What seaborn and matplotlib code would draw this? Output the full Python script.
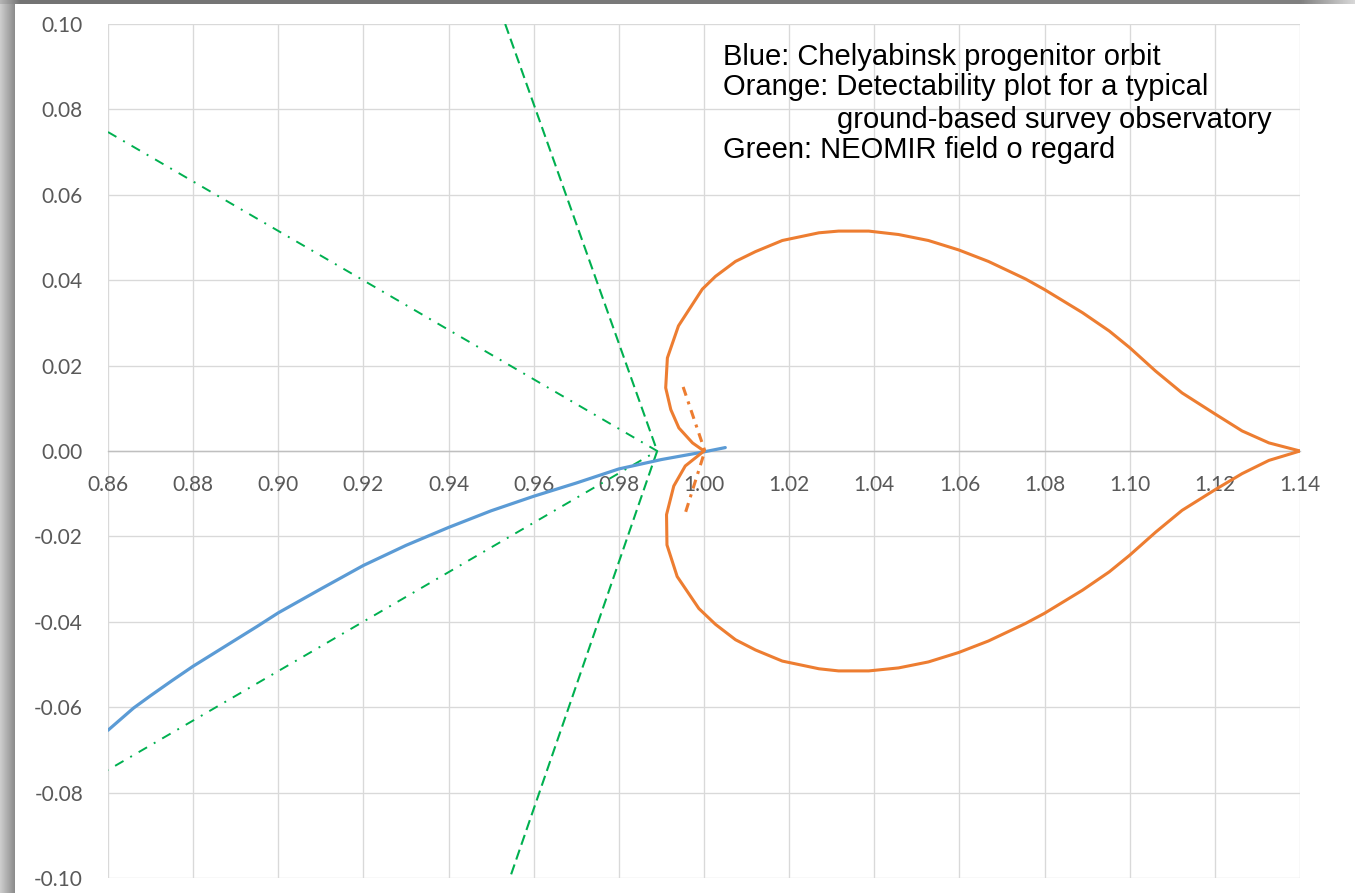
import matplotlib
matplotlib.use("Agg")
import matplotlib.pyplot as plt
import seaborn as sns
import numpy as np
from matplotlib.ticker import FormatStrFormatter

# Blue: Chelyabinsk progenitor orbit
blue_x = [0.860, 0.866, 0.870, 0.875, 0.880, 0.885, 0.890, 0.895, 0.900, 0.910,
          0.920, 0.930, 0.940, 0.950, 0.960, 0.970, 0.980, 0.990, 1.000, 1.005]
blue_y = [-0.0654, -0.0602, -0.0573, -0.0538, -0.0504, -0.0473, -0.0442, -0.0411,
          -0.0379, -0.0323, -0.0268, -0.0221, -0.0179, -0.0140, -0.0106, -0.0075,
          -0.0042, -0.0020, -0.0002, 0.0008]

# Orange: detectability curve, upper and lower branch (cusp at 1.00 -> 1.14)
orange_up_x = [1.0000, 0.9973, 0.9941, 0.9922, 0.9910, 0.9914, 0.9940, 0.9996,
               1.0027, 1.0074, 1.0121, 1.0184, 1.0270, 1.0316, 1.0387, 1.0457,
               1.0527, 1.0598, 1.0668, 1.0755, 1.0800, 1.0889, 1.0952, 1.1000,
               1.1061, 1.1123, 1.1200, 1.1264, 1.1327, 1.1400]
orange_up_y = [0.0000, 0.0019, 0.0054, 0.0097, 0.0148, 0.0218, 0.0293, 0.0379,
               0.0409, 0.0444, 0.0467, 0.0493, 0.0511, 0.0515, 0.0515, 0.0507,
               0.0493, 0.0471, 0.0444, 0.0403, 0.0378, 0.0324, 0.0281, 0.0242,
               0.0187, 0.0136, 0.0087, 0.0047, 0.0019, 0.0000]
orange_lo_x = [1.0000, 0.9956, 0.9929, 0.9912, 0.9913, 0.9937, 0.9988, 1.0027,
               1.0074, 1.0121, 1.0184, 1.0270, 1.0316, 1.0387, 1.0457, 1.0527,
               1.0598, 1.0668, 1.0755, 1.0800, 1.0889, 1.0952, 1.1000, 1.1061,
               1.1123, 1.1200, 1.1264, 1.1327, 1.1400]
orange_lo_y = [0.0000, -0.0035, -0.0082, -0.0149, -0.0220, -0.0294, -0.0369, -0.0406,
               -0.0442, -0.0466, -0.0492, -0.0510, -0.0515, -0.0515, -0.0508, -0.0494,
               -0.0472, -0.0445, -0.0404, -0.0380, -0.0326, -0.0283, -0.0244, -0.0190,
               -0.0139, -0.0091, -0.0053, -0.0022, 0.0000]
orange_dd_x = [0.9951, 1.0002, 0.9954]
orange_dd_y = [0.0150, 0.0000, -0.0152]

# Green: NEOMIR field of regard
green_dash_x = [0.9533, 0.9890, 0.9544]
green_dash_y = [0.100, 0.000, -0.100]
green_dd_x = [0.860, 0.9890, 0.860]
green_dd_y = [0.0747, 0.000, -0.0747]

x_ticks = [0.86, 0.88, 0.90, 0.92, 0.94, 0.96, 0.98, 1.00, 1.02, 1.04, 1.06, 1.08,
           1.10, 1.12, 1.14]
y_ticks = [-0.10, -0.08, -0.06, -0.04, -0.02, 0.00, 0.02, 0.04, 0.06, 0.08, 0.10]

notes = ["Blue: Chelyabinsk progenitor orbit",
         "Orange: Detectability plot for a typical",
         "ground-based survey observatory",
         "Green: NEOMIR field o regard"]

BLUE = "#5B9BD5"
ORANGE = "#ED7D31"
GREEN = "#00B050"

sns.set_theme(style="white")
plt.rcParams['font.family'] = ['Lato', 'DejaVu Sans']
plt.rcParams['axes.unicode_minus'] = False

W, H = 1355, 893
fig = plt.figure(figsize=(W / 100, H / 100), dpi=100)
fig.patch.set_facecolor("white")
ax = fig.add_axes([108 / W, 1 - 878 / H, (1300 - 108) / W, (878 - 24) / H])

def draw(xs, ys, color, lw, ls="-"):
    sns.lineplot(x=xs, y=ys, sort=False, estimator=None, color=color,
                 linewidth=lw, linestyle=ls, ax=ax, zorder=3)

draw(green_dd_x, green_dd_y, GREEN, 1.4, (0, (5, 4, 1, 4)))
draw(green_dash_x, green_dash_y, GREEN, 1.5, (0, (5, 2.5)))
draw(blue_x, blue_y, BLUE, 2.3)
draw(orange_up_x, orange_up_y, ORANGE, 2.2)
draw(orange_lo_x, orange_lo_y, ORANGE, 2.2)
draw(orange_dd_x, orange_dd_y, ORANGE, 2.2, (0, (3, 2, 1, 2)))

ax.set_xlim(0.86, 1.14)
ax.set_ylim(-0.10, 0.10)
ax.set_xticks(x_ticks)
ax.set_yticks(y_ticks)
ax.xaxis.set_major_formatter(FormatStrFormatter('%.2f'))
ax.yaxis.set_major_formatter(FormatStrFormatter('%.2f'))
ax.grid(True, color="#d9d9d9", linewidth=0.95)
ax.set_axisbelow(True)
for s in ["left", "right", "top"]:
    ax.spines[s].set_visible(False)
ax.spines["bottom"].set_position(("data", 0))
ax.spines["bottom"].set_color("#bfbfbf")
ax.spines["bottom"].set_linewidth(1.0)
ax.tick_params(axis="both", length=0, labelsize=15, colors="#595959")
ax.tick_params(axis="y", pad=18)
ax.tick_params(axis="x", pad=17)
ax.set_xlabel("")
ax.set_ylabel("")

# annotation block (no legend in the original)
txt_font = ['Liberation Sans', 'DejaVu Sans']
baselines = [65, 95, 128, 158]
lefts = [723, 723, 837, 723]
for s, b, l in zip(notes, baselines, lefts):
    fig.text(l / W, 1 - b / H, s, fontsize=21, family=txt_font, color="black",
             va="baseline", ha="left")

# screenshot shadow along left and top edge
sh = fig.add_axes([0, 0, 15 / W, 1])
sh.imshow(np.linspace(0.80, 0.55, 15)[None, :], cmap="gray", vmin=0, vmax=1,
          aspect="auto")
sh.axis("off")
top = fig.add_axes([0, 1 - 4 / H, 1, 4 / H])
top.imshow(np.interp(np.arange(W), [0, 20, 1300, W], [0.7, 0.45, 0.5, 0.85])[None, :],
           cmap="gray", vmin=0, vmax=1, aspect="auto")
top.axis("off")

fig.savefig("out.png", dpi=100)
